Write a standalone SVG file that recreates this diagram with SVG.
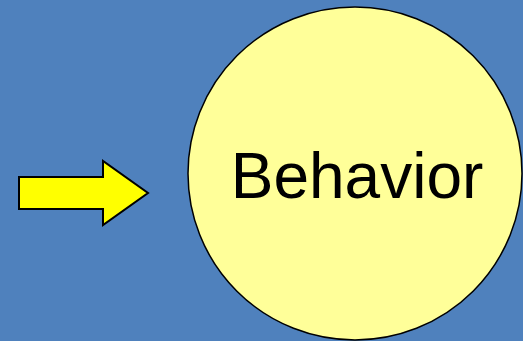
<svg xmlns="http://www.w3.org/2000/svg" width="523" height="341" viewBox="0 0 523 341">
<style>
.bg{fill:#4F81BD}
.arrow{fill:#FFFF00;stroke:#000;stroke-width:2;stroke-linejoin:miter}
.node{fill:#FFFF99;stroke:#000;stroke-width:1.5}
.label{font-family:"Liberation Sans",Arial,sans-serif;font-size:64px;fill:#000}
</style>
<rect class="bg" x="0" y="0" width="523" height="341"/>
<g id="connectors">
<path id="arrow" class="arrow" d="M19,177 H103 V161 L148,193 L103,225 V209 H19 Z"/>
</g>
<g id="behavior">
<ellipse class="node" cx="355" cy="173.5" rx="167" ry="166.5"/>
<text class="label" x="357" y="198" text-anchor="middle">Behavior</text>
</g>
</svg>
